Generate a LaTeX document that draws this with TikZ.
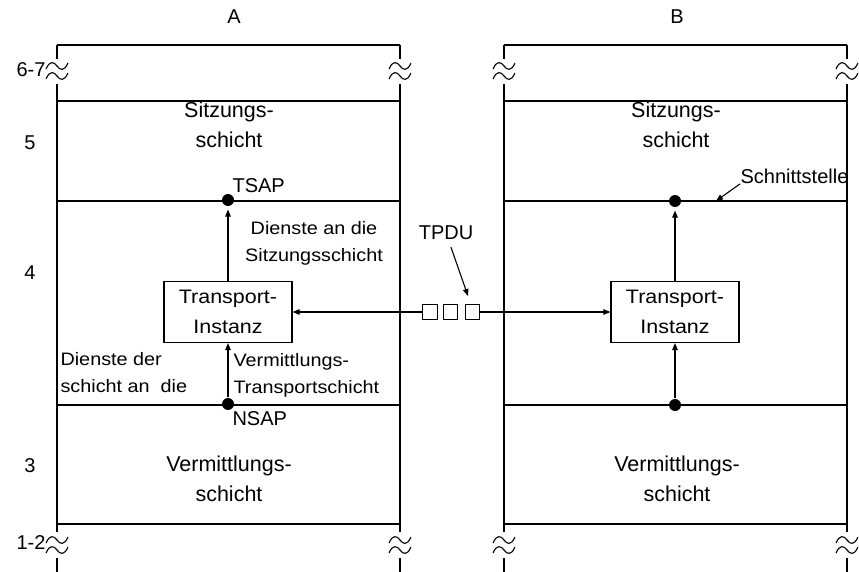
\documentclass[tikz,border=0pt]{standalone}
\usepackage{fontspec}
\setmainfont{Liberation Sans}
\newfontfamily\widesans[FakeStretch=1.1]{Liberation Sans}
\usetikzlibrary{arrows.meta}

\tikzset{
  osi/.style={x=1pt,y=-1pt,line width=1.1pt,>={Triangle[length=7pt,width=5.5pt]}},
  lyrtext/.style={inner sep=0pt,align=center,font=\fontsize{21.5}{30}\selectfont},
  anntext/.style={inner sep=0pt,font=\widesans\fontsize{18}{27}\selectfont},
  lbltext/.style={inner sep=0pt,font=\fontsize{20}{24}\selectfont},
  instbox/.style={draw,minimum width=128pt,minimum height=61pt,inner sep=0pt,align=center,
    font=\widesans\fontsize{19.5}{30}\selectfont},
  pdubox/.style={draw,line width=0.9pt,minimum size=14.5pt,inner sep=0pt},
  sap/.style={circle,fill,minimum size=12pt,inner sep=0pt},
  brk/.pic={
    \draw (-11,-2) .. controls (-7,-11) and (-3,-9) .. (0,-5) .. controls (3,-1) and (7,1) .. (11,-8);
    \draw (-11,8) .. controls (-7,-1) and (-3,1) .. (0,5) .. controls (3,9) and (7,11) .. (11,2);}
}

\begin{document}
\begin{tikzpicture}[osi]
    \useasboundingbox (0,0) rectangle (859,572);
    % the two stacks
    \foreach \x in {57,400,504,847} {
      \draw (\x,45) -- (\x,59);
      \draw (\x,84) -- (\x,532);
      \draw (\x,558) -- (\x,572);
      \pic at (\x,71) {brk};
      \pic at (\x,545) {brk};
    }
    \foreach \y in {45,101,201,405,524} {
      \draw (57,\y) -- (400,\y);
      \draw (504,\y) -- (847,\y);
    }
    \node[lbltext] (labA) at (234,17) {A};
    \node[lbltext] (labB) at (677,17) {B};
    \node[lbltext,anchor=east] (l67) at (46,70) {6-7};
    \node[lbltext] (l5) at (30,143) {5};
    \node[lbltext] (l4) at (30,273) {4};
    \node[lbltext] (l3) at (30,466) {3};
    \node[lbltext,anchor=east] (l12) at (46,543) {1-2};
    \node[lyrtext] (sitzA) at (229,125) {Sitzungs-\\schicht};
    \node[lyrtext] (sitzB) at (676,125) {Sitzungs-\\schicht};
    \node[lyrtext] (vermA) at (229,479) {Vermittlungs-\\schicht};
    \node[lyrtext] (vermB) at (677,479) {Vermittlungs-\\schicht};
    % transport entities and service access points
    \node[instbox] (instA) at (228,312) {Transport-\\Instanz};
    \node[instbox] (instB) at (675,312) {Transport-\\Instanz};
    \node[sap] (tsapA) at (228,200) {};
    \node[sap] (nsapA) at (228,404) {};
    \node[sap] (tsapB) at (675,201) {};
    \node[sap] (nsapB) at (675,405) {};
    \draw[->,shorten >=3pt] (instA) -- (tsapA);
    \draw[->] (nsapA) -- (instA);
    \draw[->,shorten >=3pt] (instB) -- (tsapB);
    \draw[->] (nsapB) -- (instB);
    \node[lbltext,anchor=west] (tsaplab) at (232,186) {TSAP};
    \node[lbltext,anchor=west] (nsaplab) at (232,419) {NSAP};
    \node[anntext,align=center] (dienstS) at (314,243) {Dienste an die\\Sitzungsschicht};
    \node[anntext,align=left,anchor=west] (dienstN) at (60,373) {Dienste der\\schicht an\ \ die};
    \node[anntext,align=left,anchor=west] (vermT) at (233,375) {Vermittlungs-\\Transportschicht};
    % TPDUs on the way
    \node[pdubox] (pdu1) at (430,312) {};
    \node[pdubox] (pdu2) at (450.5,312) {};
    \node[pdubox] (pdu3) at (472.5,312) {};
    \draw[->] (pdu1) -- (instA);
    \draw[->] (pdu3) -- (instB);
    \node[lbltext] (tpdu) at (446,233) {TPDU};
    \coordinate (tpdutip) at (468,296);
    \draw[->,shorten <=7pt] (tpdu) -- (tpdutip);
    \node[lbltext,anchor=west] (schnitt) at (740,176) {Schnittstelle};
    \coordinate (schnitttip) at (716,201);
    \draw[->] (schnitt.south west) -- (schnitttip);
\end{tikzpicture}
\end{document}
